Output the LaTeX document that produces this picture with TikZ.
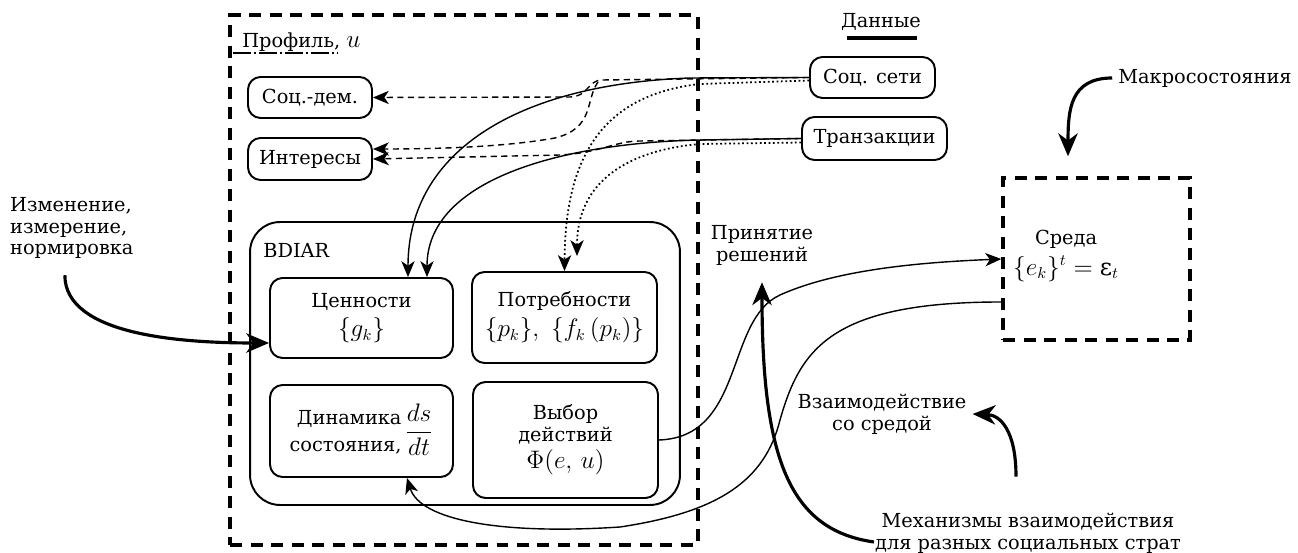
\documentclass[tikz,border=0pt]{standalone}
\usepackage{amsmath}
\usepackage{fontspec}
\setmainfont{DejaVu Serif}
\usetikzlibrary{arrows.meta}
\newcommand{\mathbig}[1]{{\fontsize{13.5}{14}\selectfont$#1$}}

\begin{document}
\begin{tikzpicture}[x=0.02cm, y=-0.02cm, font=\fontsize{11}{12.5}\selectfont,
	box/.style={draw, line width=1.1pt, rounded corners=0.25cm, inner sep=0pt, align=center},
	frame/.style={draw, line width=2pt, dash pattern=on 0.24cm off 0.17cm},
	link/.style={line width=0.8pt, -{Stealth[length=9pt,width=7.5pt,inset=2.5pt]}},
	bold/.style={line width=1.8pt, -{Stealth[length=13pt,width=11pt,inset=4pt]}},
	dashlink/.style={link, dash pattern=on 3.5pt off 2.5pt},
	dotlink/.style={link, line width=1pt, dash pattern=on 1pt off 1.5pt}]
			\useasboundingbox (0,0) rectangle (1298,553);
			\node[frame, minimum width=9.36cm, minimum height=10.6cm] (profile) at (464,280) {};
			\node[anchor=west, inner sep=0pt] (proflabel) at (242,42) {Профиль, \mathbig{u}};
			\draw[line width=1.2pt, dash pattern=on 0.36cm off 0.06cm on 0.04cm off 0.06cm] (233,53) -- (338,53);
			\node (datalabel) at (881,22) {Данные};
			\draw[line width=1.8pt] (847,38) -- (917,38);
			\node[box, minimum width=2.48cm, minimum height=0.82cm] (socdem) at (310,97.5) {Соц.-дем.};
			\node[box, minimum width=2.48cm, minimum height=0.84cm] (inter) at (310,159) {Интересы};
			\node[box, minimum width=2.5cm, minimum height=0.82cm] (socnet) at (872.5,77.5) {Соц. сети};
			\node[box, minimum width=2.9cm, minimum height=0.86cm] (trans) at (874.5,138.5) {Транзакции};
			\node[box, rounded corners=0.6cm, minimum width=8.6cm, minimum height=5.66cm] (bdiar) at (465,363.5) {};
			\node[anchor=west, inner sep=0pt] (bdiarlabel) at (263,250) {BDIAR};
			\node[box, minimum width=3.66cm, minimum height=1.6cm] (values) at (361.5,318) {Ценности\\[3pt]\mathbig{\{g_k\}}};
			\node[box, minimum width=3.7cm, minimum height=1.82cm] (needs) at (564.5,317.5) {Потребности\\[3pt]\mathbig{\{p_k\},\ \{f_k\,(p_k)\}}};
			\node[box, minimum width=3.66cm, minimum height=1.84cm] (dyn) at (361.5,431) {\begin{tabular}{@{}r@{}}Динамика\\[3pt]состояния,\end{tabular}\,\mathbig{\dfrac{ds}{dt}}};
			\node[box, minimum width=3.7cm, minimum height=2.32cm] (choice) at (565.5,440) {Выбор\\действий\\[3pt]\mathbig{\Phi(e,\,u)}};
			\node[frame, minimum width=3.74cm, minimum height=3.24cm] (env) at (1096.5,259) {};
			\node[align=center] (envlabel) at (1066,256) {Среда\\[3pt]\mathbig{\{e_k\}^t=\mbox{ε}_t}};
			\node (macro) at (1205,78) {Макросостояния};
			\node[align=left, anchor=west] (change) at (4,228) {Изменение,\\измерение,\\нормировка};
			\node[align=center] (decision) at (762,245) {Принятие\\решений};
			\node[align=center] (interact) at (882,414) {Взаимодействие\\со средой};
			\node[align=center] (mech) at (1028,533) {Механизмы взаимодействия\\для разных социальных страт};
			\coordinate (fork) at (598,82);
			\draw[dashlink] (socnet.west) -- (602,80) .. controls (588,80) and (588,97) .. (570,97) -- (socdem.east);
			\draw[dashlink] (fork) .. controls (585,100) and (595,128) .. (555,138) .. controls (510,146) and (450,149) .. ([yshift=0.2cm]inter.east);
			\draw[dashlink] (trans.west) -- (640,141) .. controls (615,141) and (600,153) .. (560,155) -- (inter.east);
			\draw[link] (socnet.west) -- (690,78) .. controls (520,84) and (408,150) .. ([xshift=0.93cm]values.north);
			\draw[link] (trans.west) -- (700,140) .. controls (560,143) and (427,180) .. ([xshift=1.31cm]values.north);
			\draw[dotlink] ([yshift=-0.06cm]socnet.west) -- (700,84) .. controls (600,95) and (565,160) .. (needs.north);
			\draw[dotlink] ([yshift=-0.08cm]trans.west) -- (700,144) .. controls (630,150) and (577,180) .. ([xshift=0.25cm,yshift=0.3cm]needs.north);
			\draw[bold] ([xshift=-0.14cm,yshift=-0.2cm]change.south) .. controls (65,335) and (180,343) .. ([yshift=-0.5cm]values.west);
			\draw[link] (choice.east) .. controls (745,437) and (725,320) .. (780,295) .. controls (840,268) and (930,262) .. (env.west);
			\draw[link] ([yshift=-0.86cm]env.west) .. controls (830,302) and (800,350) .. (780,420) .. controls (765,480) and (720,512) .. (620,527) .. controls (500,535) and (420,520) .. ([xshift=0.91cm]dyn.south);
			\draw[bold] ([xshift=0.1cm,yshift=-0.18cm]mech.west) .. controls (790,530) and (762,460) .. ([yshift=-0.22cm]decision.south);
			\draw[bold] ([xshift=-0.24cm,yshift=0.6cm]mech.north) .. controls (1016,430) and (1000,415) .. (interact.east);
			\draw[bold] (macro.west) .. controls (1070,78) and (1068,110) .. ([xshift=-0.57cm,yshift=0.4cm]env.north);
		\end{tikzpicture}
\end{document}
